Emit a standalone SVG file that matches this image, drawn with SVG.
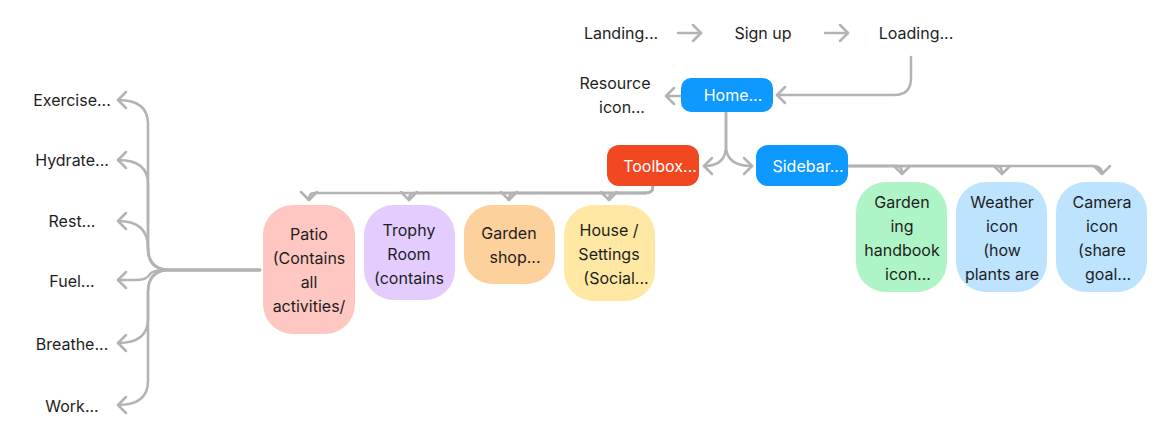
<svg xmlns="http://www.w3.org/2000/svg" width="1169" height="447" viewBox="0 0 1169 447">
<defs>
<marker id="chev" viewBox="-12 -12 24 24" refX="0" refY="0" markerWidth="24" markerHeight="24" markerUnits="userSpaceOnUse" orient="auto">
<path d="M-8,-8 L0,0 L-8,8" fill="none" stroke="#b3b3b3" stroke-width="2.5" stroke-linecap="round" stroke-linejoin="round"/>
</marker>
<style>
text{font-family:Inter,"Noto Sans","Liberation Sans",sans-serif;font-size:16px;fill:#1e1e1e;text-anchor:middle}
.w{fill:#ffffff}
.c{fill:none;stroke:#b3b3b3;stroke-width:2.5;stroke-linecap:round;stroke-linejoin:round;marker-end:url(#chev)}
</style>
</defs>
<rect width="1169" height="447" fill="#ffffff"/>
<g id="connectors">
<path class="c" d="M678,33 L701,33"/>
<path class="c" d="M825,33 L848,33"/>
<path class="c" d="M911,57 L911,78 Q911,95 894,95 L777,95"/>
<path class="c" d="M681,96 L666,96"/>
<path class="c" d="M726,112 L726,146 Q726,166 704,166"/>
<path class="c" d="M726,112 L726,146 Q726,166 752,166"/>
<path class="c" d="M653,186 Q653,193 646,193 L314,193 Q309,193 309,200"/>
<path class="c" d="M653,186 Q653,193 646,193 L414,193 Q409,193 409,200"/>
<path class="c" d="M653,186 Q653,193 646,193 L514,193 Q509,193 509,200"/>
<path class="c" d="M653,186 Q653,193 646,193 L614,193 Q609,193 609,200"/>
<path class="c" d="M848,166 L897,166 Q902,166 902,174"/>
<path class="c" d="M848,166 L997,166 Q1002,166 1002,174"/>
<path class="c" d="M848,166 L1092,166 Q1102,166 1102,174"/>
<path class="c" d="M260,270 L170,270 Q148,270 148,248 L148,124 Q148,100 118,100"/>
<path class="c" d="M260,270 L170,270 Q148,270 148,248 L148,184 Q148,160 118,160"/>
<path class="c" d="M260,270 L170,270 Q148,270 148,248 Q148,221 118,221"/>
<path class="c" d="M260,270 L166,270 Q153,270 150,274 Q147,280 136,280 L118,280"/>
<path class="c" d="M260,270 L170,270 Q148,270 148,292 L148,319 Q148,343 118,343"/>
<path class="c" d="M260,270 L170,270 Q148,270 148,292 L148,381 Q148,405 118,405"/>
</g>
<g id="landing"><text x="621" y="39">Landing...</text></g>
<g id="signup"><text x="763" y="39">Sign up</text></g>
<g id="loading"><text x="916" y="39">Loading...</text></g>
<g id="resource"><text x="615" y="89">Resource</text><text x="622" y="113">icon...</text></g>
<g id="home"><rect x="681" y="78" width="92" height="34" rx="10" fill="#0d99ff"/><text class="w" x="733" y="101">Home...</text></g>
<g id="toolbox"><rect x="607" y="145" width="92" height="41" rx="12" fill="#f24822"/><text class="w" x="660" y="172">Toolbox...</text></g>
<g id="sidebar"><rect x="756" y="145" width="92" height="41" rx="12" fill="#0d99ff"/><text class="w" x="808" y="172">Sidebar...</text></g>
<g id="patio"><rect x="263" y="205" width="92" height="129" rx="30" fill="#ffc7c2"/>
<text x="309" y="240">Patio</text><text x="309" y="264">(Contains</text><text x="309" y="288">all</text><text x="309" y="312">activities/</text></g>
<g id="trophy"><rect x="364" y="205" width="91" height="95" rx="30" fill="#e4ccff"/>
<text x="409" y="236">Trophy</text><text x="409" y="260">Room</text><text x="409" y="284">(contains</text></g>
<g id="gardenshop"><rect x="464" y="205" width="91" height="79" rx="28" fill="#fcd19c"/>
<text x="509" y="239">Garden</text><text x="515" y="263">shop...</text></g>
<g id="house"><rect x="564" y="205" width="91" height="96" rx="30" fill="#ffe8a3"/>
<text x="609" y="236">House /</text><text x="609" y="260">Settings</text><text x="616" y="284">(Social...</text></g>
<g id="handbook"><rect x="856" y="182" width="91" height="110" rx="30" fill="#aff4c6"/>
<text x="902" y="208">Garden</text><text x="902" y="232">ing</text><text x="902" y="256">handbook</text><text x="908" y="280">icon...</text></g>
<g id="weather"><rect x="956" y="182" width="91" height="110" rx="30" fill="#bde3ff"/>
<text x="1002" y="208">Weather</text><text x="1002" y="232">icon</text><text x="1002" y="256">(how</text><text x="1002" y="280">plants are</text></g>
<g id="camera"><rect x="1056" y="182" width="91" height="110" rx="30" fill="#bde3ff"/>
<text x="1102" y="208">Camera</text><text x="1102" y="232">icon</text><text x="1102" y="256">(share</text><text x="1108" y="280">goal...</text></g>
<g id="exercise"><text x="72" y="106">Exercise...</text></g>
<g id="hydrate"><text x="72" y="166">Hydrate...</text></g>
<g id="rest"><text x="72" y="227">Rest...</text></g>
<g id="fuel"><text x="72" y="287">Fuel...</text></g>
<g id="breathe"><text x="72" y="350">Breathe...</text></g>
<g id="work"><text x="72" y="412">Work...</text></g>
</svg>
